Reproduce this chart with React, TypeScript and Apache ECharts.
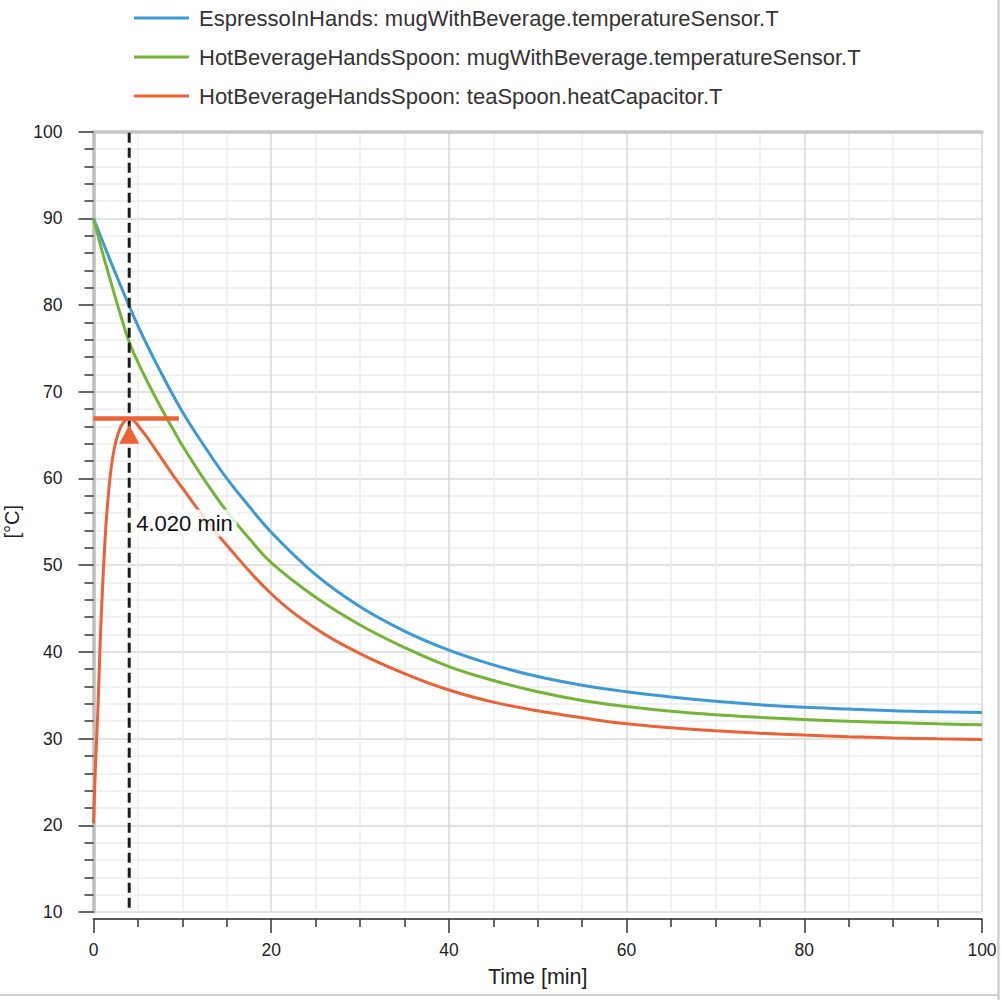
import React, { useEffect, useRef } from "react";
import * as echarts from "echarts";

const seriesNames = [
  "EspressoInHands: mugWithBeverage.temperatureSensor.T",
  "HotBeverageHandsSpoon: mugWithBeverage.temperatureSensor.T",
  "HotBeverageHandsSpoon: teaSpoon.heatCapacitor.T",
];

const espressoTimes = [0, 2.5, 5, 7.5, 10, 12.5, 15, 17.5, 20, 25, 30, 35, 40, 45, 50, 55, 60, 65, 70, 75, 80, 85, 90, 95, 100];
const espressoTemps = [90, 83.6, 77.6, 72.4, 67.7, 63.7, 60.0, 56.8, 53.8, 48.9, 45.2, 42.4, 40.2, 38.5, 37.15, 36.15, 35.4, 34.8, 34.3, 33.9, 33.6, 33.4, 33.2, 33.1, 33.0];

const spoonMugTimes = [0, 1, 2, 3, 4, 5, 6, 7, 8, 9, 10, 12.5, 15, 17.5, 20, 25, 30, 35, 40, 45, 50, 55, 60, 65, 70, 75, 80, 85, 90, 95, 100];
const spoonMugTemps = [90, 86.1, 82.5, 79.0, 75.8, 73.4, 71.3, 69.3, 67.4, 65.6, 63.8, 59.8, 56.2, 53.1, 50.3, 46.3, 43.1, 40.5, 38.3, 36.7, 35.4, 34.4, 33.7, 33.15, 32.75, 32.45, 32.2, 32.0, 31.85, 31.7, 31.6];

const spoonTimes = [0, 0.25, 0.5, 0.75, 1, 1.25, 1.5, 2, 2.5, 3, 3.5, 4, 4.5, 5, 6, 7, 8, 9, 10, 12, 15, 20, 25, 30, 35, 40, 45, 50, 55, 60, 65, 70, 75, 80, 85, 90, 95, 100];
const spoonTemps = [20.2, 27.5, 33.5, 41, 47, 52, 56, 61.3, 64.2, 65.8, 66.6, 66.9, 66.7, 66.1, 64.8, 63.3, 61.8, 60.3, 58.9, 56.1, 52.3, 46.7, 42.7, 39.8, 37.5, 35.6, 34.2, 33.2, 32.4, 31.7, 31.25, 30.9, 30.62, 30.4, 30.22, 30.08, 29.97, 29.9];

const cursorTime = 4.02;
const cursorLabel = "4.020 min";
const peakTemp = 66.9;
const peakLineEnd = 9.6;
const markerTemp = 65.1;
const labelTemp = 54.85;

const xTicks = { min: 0, max: 100, interval: 20 };
const yTicks = { min: 10, max: 100, interval: 10 };

const BLUE = "#3b9ad6";
const GREEN = "#74b436";
const ORANGE = "#eb6236";
const FONT = "'Liberation Sans', Arial, Helvetica, sans-serif";

export default function App() {
  const ref = useRef<HTMLDivElement>(null);

  useEffect(() => {
    document.body.style.margin = "0";
    const chart = echarts.init(ref.current!, null, { renderer: "svg" });
    const zip = (xs: number[], ys: number[]) => xs.map((x, i) => [x, ys[i]]);

    const axisTickStyle = { color: "#333", width: 1.5 };
    const curve = (name: string, data: number[][], color: string) => ({
      name,
      type: "line",
      data,
      smooth: 0.4,
      showSymbol: false,
      color,
      lineStyle: { width: 3, color },
      z: 2,
    });

    const option: any = {
      animation: false,
      textStyle: { fontFamily: FONT },
      grid: { left: 93.5, right: 20, top: 131.6, bottom: 88, containLabel: false, outerBoundsMode: "none" },
      legend: {
        data: seriesNames,
        orient: "vertical",
        left: 134,
        top: 7,
        padding: 0,
        itemGap: 17,
        itemWidth: 55,
        itemHeight: 3,
        icon: "rect",
        textStyle: { fontSize: 22, color: "#333", fontFamily: FONT, padding: [0, 0, 0, 5] },
      },
      xAxis: [
        {
          type: "value",
          min: xTicks.min,
          max: xTicks.max,
          interval: xTicks.interval,
          position: "bottom",
          offset: 7,
          name: "Time [min]",
          nameLocation: "middle",
          nameGap: 47,
          nameTextStyle: { fontSize: 21.5, color: "#222", fontFamily: FONT },
          axisLine: { show: true, lineStyle: { color: "#222", width: 1.5 } },
          axisTick: { show: true, length: 14, lineStyle: axisTickStyle },
          minorTick: { show: true, splitNumber: 4, length: 8, lineStyle: axisTickStyle },
          axisLabel: { fontSize: 17.5, color: "#222", margin: 22, fontFamily: FONT },
          splitLine: { show: true, lineStyle: { color: "#d9d9d9", width: 1.5 } },
          minorSplitLine: { show: true, lineStyle: { color: "#ececec", width: 1.5 } },
        },
        {
          type: "value",
          min: xTicks.min,
          max: xTicks.max,
          position: "top",
          offset: 0,
          axisLine: { show: true, lineStyle: { color: "#c6c6c6", width: 3.5 } },
          axisTick: { show: false },
          axisLabel: { show: false },
          splitLine: { show: false },
        },
      ],
      yAxis: [
        {
          type: "value",
          min: yTicks.min,
          max: yTicks.max,
          interval: yTicks.interval,
          position: "left",
          offset: 7,
          name: "[°C]",
          nameLocation: "middle",
          nameGap: 58.5,
          nameTextStyle: { fontSize: 20, color: "#222", fontFamily: FONT },
          axisLine: { show: true, lineStyle: { color: "#222", width: 1.5 } },
          axisTick: { show: true, length: 15, lineStyle: axisTickStyle },
          minorTick: { show: true, splitNumber: 5, length: 9, lineStyle: axisTickStyle },
          axisLabel: { fontSize: 17.5, color: "#222", margin: 24, fontFamily: FONT },
          splitLine: { show: true, lineStyle: { color: "#d9d9d9", width: 1.5 } },
          minorSplitLine: { show: true, lineStyle: { color: "#ececec", width: 1.5 } },
        },
        {
          type: "value",
          min: yTicks.min,
          max: yTicks.max,
          position: "left",
          offset: 0,
          axisLine: { show: true, onZero: false, lineStyle: { color: "#bdbdbd", width: 3.5 } },
          axisTick: { show: false },
          axisLabel: { show: false },
          splitLine: { show: false },
        },
      ],
      series: [
        curve(seriesNames[0], zip(espressoTimes, espressoTemps), BLUE),
        curve(seriesNames[1], zip(spoonMugTimes, spoonMugTemps), GREEN),
        curve(seriesNames[2], zip(spoonTimes, spoonTemps), ORANGE),
        {
          type: "line",
          data: [
            [cursorTime, yTicks.min + 0.5],
            [cursorTime, yTicks.max],
          ],
          showSymbol: false,
          silent: true,
          lineStyle: { color: "#1c1c1c", width: 3, type: [10, 5] },
          z: 3,
        },
        {
          type: "line",
          data: [
            [0, peakTemp],
            [peakLineEnd, peakTemp],
          ],
          showSymbol: false,
          silent: true,
          lineStyle: { color: ORANGE, width: 4.5 },
          z: 4,
        },
        {
          type: "scatter",
          data: [[cursorTime, markerTemp]],
          symbol: "triangle",
          symbolSize: [20, 19],
          itemStyle: { color: ORANGE, opacity: 1 },
          silent: true,
          z: 5,
        },
        {
          type: "scatter",
          data: [[cursorTime, labelTemp]],
          symbolSize: 0,
          silent: true,
          itemStyle: { opacity: 1 },
          z: 6,
          label: {
            show: true,
            position: "right",
            distance: 3,
            formatter: cursorLabel,
            fontSize: 22,
            color: "#111",
            opacity: 1,
            fontFamily: FONT,
            backgroundColor: "rgba(255,255,255,0.8)",
            padding: [3, 4, 2, 4],
          },
        },
      ],
      graphic: [
        {
          type: "line",
          shape: { x1: 998.5, y1: 0, x2: 998.5, y2: 1000 },
          style: { stroke: "#c4c4c4", lineWidth: 2 },
          silent: true,
        },
        {
          type: "line",
          shape: { x1: 0, y1: 995, x2: 999, y2: 995 },
          style: { stroke: "#c4c4c4", lineWidth: 1.5 },
          silent: true,
        },
      ],
    };
    chart.setOption(option);
    return () => chart.dispose();
  }, []);

  return <div ref={ref} style={{ width: 1002, height: 1000 }} />;
}
